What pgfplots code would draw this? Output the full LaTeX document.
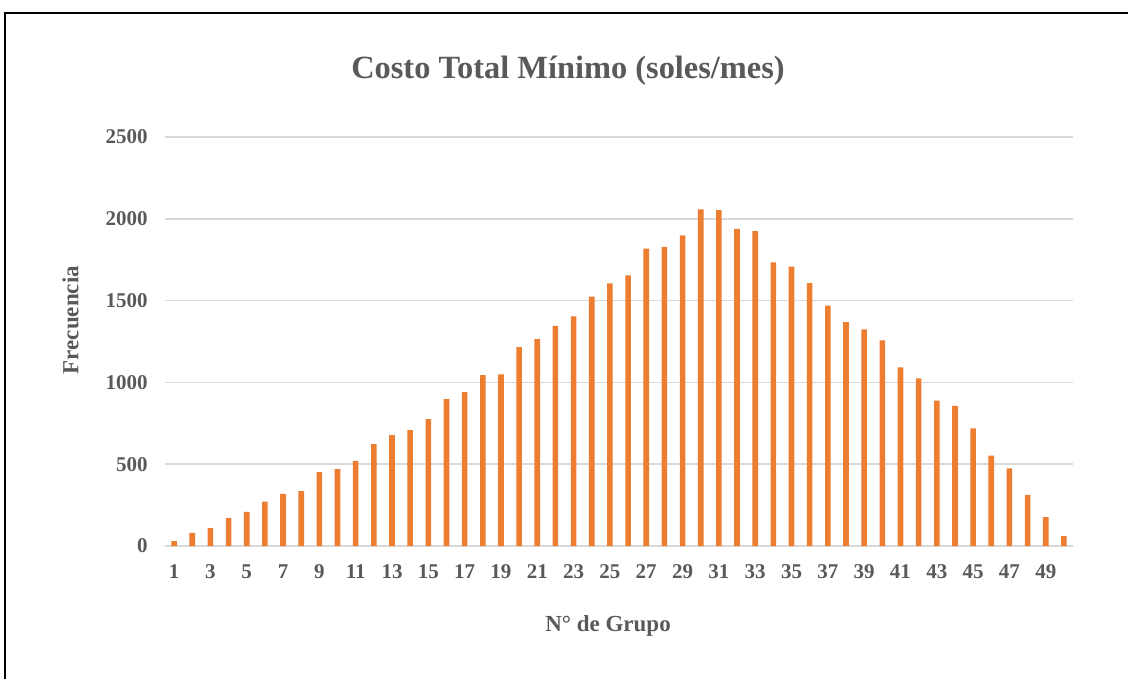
\documentclass[border=0pt]{standalone}
\usepackage{pgfplots}
\pgfplotsset{compat=1.18}
\usepackage{fontspec}
\setmainfont{Liberation Serif}
\definecolor{txt}{HTML}{595959}
\definecolor{barc}{HTML}{ED7D31}
\definecolor{gridc}{HTML}{D9D9D9}
\begin{document}
\begin{tikzpicture}
\path[use as bounding box] (0,0) rectangle (564pt,-339.5pt);
\draw[black, line width=1pt] (2.5pt,-339.5pt) -- (2.5pt,-6.5pt) -- (564pt,-6.5pt);
\begin{axis}[
  at={(82.5pt,-273pt)}, anchor=south west,
  scale only axis, width=454pt, height=204.5pt,
  xmin=0.5, xmax=50.5, ymin=0, ymax=2500,
  ytick={0,500,...,2500}, xtick={1,3,...,49},
  ymajorgrids, grid style={gridc, line width=0.75pt},
  axis line style={draw=none},
  major tick length=0pt,
  /pgf/number format/assume math mode=true,
  /pgf/number format/1000 sep={},
  ticklabel style={font=\fontsize{10.5}{12}\selectfont\bfseries, text=txt, inner sep=0pt},
  yticklabel style={anchor=east, xshift=-8.5pt},
  xticklabel style={anchor=base, yshift=-16.25pt},
  ybar, bar width=2.8pt,
]
\addplot[fill=barc, draw=none] coordinates {
(1,30) (2,81) (3,110) (4,170) (5,208) (6,272) (7,318) (8,335) (9,451) (10,470)
(11,521) (12,623) (13,677) (14,708) (15,776) (16,898) (17,941) (18,1045) (19,1049) (20,1216)
(21,1265) (22,1346) (23,1403) (24,1525) (25,1605) (26,1654) (27,1817) (28,1829) (29,1898) (30,2057)
(31,2053) (32,1939) (33,1925) (34,1733) (35,1707) (36,1607) (37,1470) (38,1369) (39,1324) (40,1257)
(41,1092) (42,1024) (43,888) (44,857) (45,719) (46,552) (47,475) (48,312) (49,177) (50,61)
};
\end{axis}
\node[anchor=base, font=\fontsize{16.2}{19}\selectfont\bfseries, text=txt] at (284pt,-39.15pt) {Costo Total Mínimo (soles/mes)};
\node[anchor=base, font=\fontsize{11.5}{13}\selectfont\bfseries, text=txt] at (304pt,-315.8pt) {N° de Grupo};
\node[anchor=base, rotate=90, font=\fontsize{11.5}{13}\selectfont\bfseries, text=txt] at (39.2pt,-160pt) {Frecuencia};
\end{tikzpicture}
\end{document}
